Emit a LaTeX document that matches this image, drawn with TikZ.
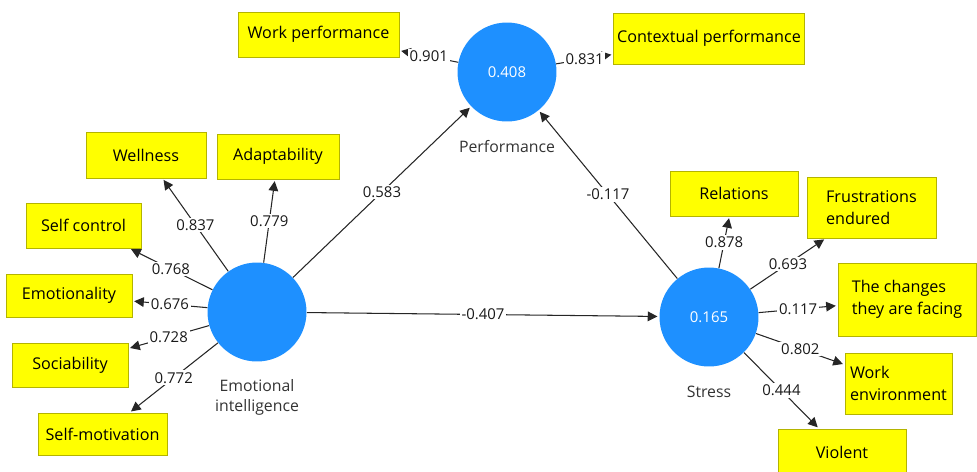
\documentclass[tikz,border=0pt]{standalone}
\usepackage{fontspec}
\setmainfont{Open Sans}
\usepackage{tikz}
\usetikzlibrary{arrows.meta}

\definecolor{lvblue}{HTML}{1E90FF}
\definecolor{mvyellow}{HTML}{FFFF00}
\definecolor{mvedge}{HTML}{B4B400}

\tikzset{
	lv/.style={circle,fill=lvblue,minimum size=1.98cm,inner sep=0pt,text=white,font=\fontsize{8.5}{10}\selectfont},
	mv/.style={rectangle,fill=mvyellow,draw=mvedge,line width=0.5pt,inner sep=2pt,align=left,font=\fontsize{9.2}{12.5}\selectfont},
	lvname/.style={text=black!80,align=center,font=\fontsize{9}{11.5}\selectfont},
	load/.style={draw=black!85,line width=0.6pt,-{Triangle[length=5.5pt,width=5.5pt]},shorten >=1pt},
	coef/.style={fill=white,inner sep=1pt,text=black!90,font=\fontsize{8.5}{10}\selectfont}
}

\begin{document}
\begin{tikzpicture}[x=0.02cm,y=-0.02cm]
	\useasboundingbox (0,0) rectangle (977,471);

	% latent variables
	\node[lv] (perf) at (507,72) {0.408};
	\node[lv] (ei) at (257,312) {};
	\node[lv] (str) at (709,317) {0.165};
	\node[lvname] (perfname) at (507,147) {Performance};
	\node[lvname] (einame) at (257,397) {Emotional\\intelligence};
	\node[lvname] (strname) at (709,392) {Stress};

	% indicators
	\node[mv,minimum width=3.22cm,minimum height=0.9cm] (wp) at (318.5,34.5) {Work performance};
	\node[mv,minimum width=3.8cm,minimum height=1.02cm] (cp) at (709,38.5) {Contextual performance};
	\node[mv,minimum width=2.4cm,minimum height=0.92cm] (wel) at (146,155) {Wellness};
	\node[mv,minimum width=2.44cm,minimum height=0.9cm] (ada) at (278,156.5) {Adaptability};
	\node[mv,minimum width=2.3cm,minimum height=0.9cm] (sc) at (83.5,225.5) {Self control};
	\node[mv,minimum width=2.52cm,minimum height=0.86cm] (emo) at (69,295.5) {Emotionality};
	\node[mv,minimum width=2.32cm,minimum height=0.88cm] (soc) at (70,365) {Sociability};
	\node[mv,minimum width=2.58cm,minimum height=0.84cm] (smot) at (102.5,434) {Self-motivation};
	\node[mv,minimum width=2.56cm,minimum height=0.9cm] (rel) at (734,193.5) {Relations};
	\node[mv,minimum width=2.58cm,minimum height=1.22cm] (fru) at (871.5,207.5) {Frustrations\\endured};
	\node[mv,minimum width=2.76cm,minimum height=1.46cm] (chg) at (907,299.5) {The changes\\they are facing};
	\node[mv,minimum width=2.14cm,minimum height=1.22cm] (wenv) at (898.5,383.5) {Work\\environment};
	\node[mv,minimum width=2.56cm,minimum height=0.92cm] (vio) at (842,452) {Violent};

	% outer loadings
	\foreach \n/\w in {wp/0.901,cp/0.831}
		\draw[load] (perf) -- node[coef] (c\n) {\w} (\n);
	\foreach \n/\w in {wel/0.837,ada/0.779,sc/0.768,emo/0.676,soc/0.728,smot/0.772}
		\draw[load] (ei) -- node[coef] (c\n) {\w} (\n);
	\foreach \n/\w in {rel/0.878,fru/0.693,chg/0.117,wenv/0.802,vio/0.444}
		\draw[load] (str) -- node[coef] (c\n) {\w} (\n);

	% path coefficients
	\draw[load] (ei) -- node[coef] (cei) {0.583} (perf);
	\draw[load] (str) -- node[coef] (cstr) {-0.117} (perf);
	\draw[load] (ei) -- node[coef] (ceistr) {-0.407} (str);
\end{tikzpicture}
\end{document}
